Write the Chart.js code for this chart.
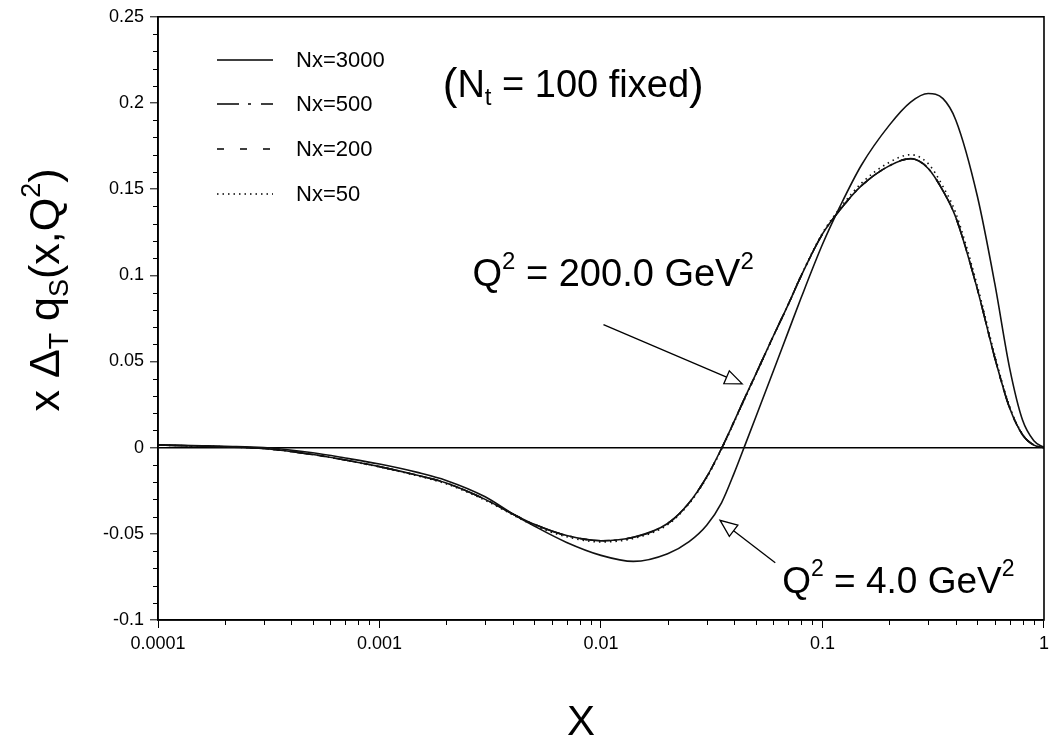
<!DOCTYPE html>
<html>
<head>
<meta charset="utf-8">
<script src="https://cdn.jsdelivr.net/npm/chart.js@4.4.0/dist/chart.umd.min.js"></script>
<style>
  html, body { margin: 0; padding: 0; background: #fff; }
</style>
</head>
<body>
<canvas id="pdfChart" width="1054" height="742"></canvas>
<script>
// x grid shared by all curves
const xValues = [0.0001, 0.0002, 0.0003, 0.0005, 0.0007, 0.001, 0.0015, 0.002, 0.003, 0.004,
  0.005, 0.007, 0.01, 0.014, 0.02, 0.025, 0.03, 0.035, 0.04, 0.045,
  0.05, 0.06, 0.07, 0.08, 0.1, 0.12, 0.15, 0.2, 0.25, 0.3,
  0.35, 0.4, 0.5, 0.6, 0.7, 0.8, 0.9, 1.0];

// Q^2 = 4.0 GeV^2 (input)
const q4Values = [0.0017, 0.0008, 0.0001, -0.003, -0.006, -0.0095, -0.0145, -0.019, -0.0285, -0.0385,
  -0.0455, -0.055, -0.0625, -0.066, -0.0615, -0.0545, -0.045, -0.032, -0.0145, 0.0025,
  0.0178, 0.0445, 0.0672, 0.0868, 0.118, 0.140, 0.164, 0.187, 0.2005, 0.2055,
  0.2025, 0.190, 0.146, 0.095, 0.046, 0.016, 0.004, 0];

// Q^2 = 200.0 GeV^2, different Nx
const nx3000Values = [0.0015, 0.0005, -0.0005, -0.004, -0.0072, -0.011, -0.0162, -0.0205, -0.030, -0.0385,
  -0.0445, -0.051, -0.054, -0.052, -0.044, -0.032, -0.017, -0.0005, 0.0155, 0.030,
  0.0427, 0.0648, 0.083, 0.0995, 0.124, 0.138, 0.152, 0.1635, 0.1676, 0.162,
  0.149, 0.1335, 0.092, 0.052, 0.023, 0.0075, 0.0015, 0];
const nx500Values = [0.0015, 0.0005, -0.0005, -0.004, -0.0072, -0.011, -0.0162, -0.0205, -0.030, -0.0385,
  -0.0445, -0.051, -0.054, -0.052, -0.044, -0.032, -0.017, -0.0005, 0.0155, 0.030,
  0.0427, 0.0648, 0.083, 0.0995, 0.124, 0.138, 0.152, 0.1635, 0.1677, 0.162,
  0.149, 0.1335, 0.092, 0.052, 0.023, 0.0075, 0.0015, 0];
const nx200Values = [0.0015, 0.0005, -0.0005, -0.004, -0.0072, -0.011, -0.0162, -0.0205, -0.030, -0.0385,
  -0.0445, -0.051, -0.054, -0.052, -0.044, -0.032, -0.017, -0.0005, 0.0155, 0.030,
  0.0427, 0.0648, 0.083, 0.0995, 0.124, 0.138, 0.152, 0.1635, 0.1678, 0.1622,
  0.149, 0.1337, 0.0922, 0.052, 0.023, 0.0075, 0.0015, 0];
const nx50Values = [0.0015, 0.0005, -0.0005, -0.004, -0.0073, -0.0112, -0.0165, -0.021, -0.0305, -0.039,
  -0.0452, -0.0517, -0.0547, -0.0527, -0.0447, -0.0325, -0.0175, -0.001, 0.015, 0.0295,
  0.0422, 0.0645, 0.083, 0.0998, 0.1245, 0.139, 0.1535, 0.1655, 0.170, 0.1648,
  0.1515, 0.136, 0.094, 0.0535, 0.0238, 0.0078, 0.0016, 0];

const legendLabels = ["Nx=3000", "Nx=500", "Nx=200", "Nx=50"];
const xTickValues = [0.0001, 0.001, 0.01, 0.1, 1];
const xTickLabels = ["0.0001", "0.001", "0.01", "0.1", "1"];
const yTickValues = [-0.1, -0.05, 0, 0.05, 0.1, 0.15, 0.2, 0.25];
const yTickLabels = ["-0.1", "-0.05", "0", "0.05", "0.1", "0.15", "0.2", "0.25"];

const FONT = '"Liberation Sans", Arial, Helvetica, sans-serif';

function points(ys) {
  return xValues.map((x, i) => ({ x: x, y: ys[i] }));
}

function curve(label, ys, dash) {
  return {
    label: label,
    data: points(ys),
    borderColor: "#111",
    borderWidth: 1.6,
    borderDash: dash,
    pointRadius: 0,
    fill: false,
    cubicInterpolationMode: "monotone"
  };
}

// text made of pieces: [text, kind] with kind n / sub / sup / big
function partFont(kind, size) {
  if (kind === "sub" || kind === "sup") return Math.round(size * 0.62) + "px " + FONT;
  if (kind === "big") return Math.round(size * 1.15) + "px " + FONT;
  return size + "px " + FONT;
}
function richWidth(ctx, parts, size) {
  let w = 0;
  parts.forEach(p => {
    ctx.font = partFont(p[1], size);
    w += ctx.measureText(p[0]).width;
  });
  return w;
}
function drawRich(ctx, parts, x, y, size) {
  let cx = x;
  parts.forEach(p => {
    ctx.font = partFont(p[1], size);
    let dy = 0;
    if (p[1] === "sup") dy = -size * 0.45;
    if (p[1] === "sub") dy = size * 0.22;
    if (p[1] === "big") dy = size * 0.06;
    ctx.fillText(p[0], cx, y + dy);
    cx += ctx.measureText(p[0]).width;
  });
}

function arrow(ctx, x0, y0, x1, y1) {
  const ang = Math.atan2(y1 - y0, x1 - x0);
  const len = 17, half = 7;
  const bx = x1 - len * Math.cos(ang), by = y1 - len * Math.sin(ang);
  ctx.beginPath();
  ctx.moveTo(x0, y0);
  ctx.lineTo(bx, by);
  ctx.stroke();
  ctx.beginPath();
  ctx.moveTo(x1, y1);
  ctx.lineTo(bx + half * Math.sin(ang), by - half * Math.cos(ang));
  ctx.lineTo(bx - half * Math.sin(ang), by + half * Math.cos(ang));
  ctx.closePath();
  ctx.fillStyle = "#fff";
  ctx.fill();
  ctx.stroke();
}

const decorPlugin = {
  id: "decor",
  afterDraw(chart) {
    const ctx = chart.ctx;
    const area = chart.chartArea;
    const xs = chart.scales.x, ys = chart.scales.y;
    ctx.save();
    ctx.strokeStyle = "#000";
    ctx.fillStyle = "#000";

    // frame
    ctx.lineWidth = 1.6;
    ctx.strokeRect(area.left, area.top, area.right - area.left, area.bottom - area.top);

    // minor ticks
    ctx.lineWidth = 1;
    for (let i = -10; i <= 25; i++) {
      if (i % 5 === 0) continue;
      const py = Math.round(ys.getPixelForValue(i / 100)) + 0.5;
      ctx.beginPath();
      ctx.moveTo(area.left - 5, py);
      ctx.lineTo(area.left, py);
      ctx.stroke();
    }
    for (let d = -4; d < 0; d++) {
      for (let m = 2; m <= 9; m++) {
        const px = Math.round(xs.getPixelForValue(m * Math.pow(10, d))) + 0.5;
        ctx.beginPath();
        ctx.moveTo(px, area.bottom);
        ctx.lineTo(px, area.bottom + 5);
        ctx.stroke();
      }
    }

    // legend
    const rows = [60, 104, 149, 194];
    chart.data.datasets.forEach(ds => {
      const idx = legendLabels.indexOf(ds.label);
      if (idx < 0) return;
      ctx.save();
      ctx.lineWidth = 1.6;
      ctx.setLineDash(ds.borderDash || []);
      ctx.beginPath();
      ctx.moveTo(217, rows[idx]);
      ctx.lineTo(273, rows[idx]);
      ctx.stroke();
      ctx.restore();
      ctx.font = "22px " + FONT;
      ctx.textBaseline = "middle";
      ctx.textAlign = "left";
      ctx.fillText(ds.label, 296, rows[idx] + 1);
    });

    // annotations
    ctx.textBaseline = "alphabetic";
    ctx.textAlign = "left";
    drawRich(ctx, [["(", "big"], ["N", "n"], ["t", "sub"], [" = 100 fixed", "n"], [")", "big"]],
      xs.getPixelForValue(0.00193), ys.getPixelForValue(0.2035), 38);
    drawRich(ctx, [["Q", "n"], ["2", "sup"], [" = 200.0 GeV", "n"], ["2", "sup"]],
      xs.getPixelForValue(0.00263), ys.getPixelForValue(0.0939), 38);
    drawRich(ctx, [["Q", "n"], ["2", "sup"], [" = 4.0 GeV", "n"], ["2", "sup"]],
      xs.getPixelForValue(0.0658), ys.getPixelForValue(-0.0841), 37);

    ctx.lineWidth = 1.3;
    arrow(ctx, xs.getPixelForValue(0.01026), ys.getPixelForValue(0.0714),
      xs.getPixelForValue(0.0434), ys.getPixelForValue(0.037));
    arrow(ctx, xs.getPixelForValue(0.0612), ys.getPixelForValue(-0.0668),
      xs.getPixelForValue(0.0345), ys.getPixelForValue(-0.0422));

    // axis titles
    ctx.fillStyle = "#000";
    const yTitle = [["x \u0394", "n"], ["T", "sub"], [" q", "n"], ["S", "sub"], ["(x,Q", "n"], ["2", "sup"], [")", "n"]];
    const w = richWidth(ctx, yTitle, 43);
    ctx.save();
    ctx.translate(59, 290);
    ctx.rotate(-Math.PI / 2);
    drawRich(ctx, yTitle, -w / 2, 0, 43);
    ctx.restore();

    ctx.font = "42px " + FONT;
    ctx.textAlign = "center";
    ctx.fillText("X", 581, 735);
    ctx.restore();
  }
};

new Chart(document.getElementById("pdfChart"), {
  type: "line",
  data: {
    datasets: [
      curve("Q2=4.0", q4Values, []),
      curve("Nx=50", nx50Values, [1.5, 4]),
      curve("Nx=200", nx200Values, [7, 16]),
      curve("Nx=500", nx500Values, [22, 9, 3, 10]),
      curve("Nx=3000", nx3000Values, [])
    ]
  },
  options: {
    responsive: false,
    animation: false,
    devicePixelRatio: 1,
    layout: { padding: { top: 12, right: 9, left: 0, bottom: 0 } },
    plugins: {
      legend: { display: false },
      tooltip: { enabled: false }
    },
    scales: {
      x: {
        type: "logarithmic",
        min: 0.0001,
        max: 1,
        afterBuildTicks(scale) {
          scale.ticks = xTickValues.map(v => ({ value: v }));
        },
        afterFit(scale) { scale.height = 122; },
        ticks: {
          autoSkip: false,
          maxRotation: 0,
          color: "#000",
          padding: 5,
          font: { family: FONT, size: 18 },
          callback: (v, i) => xTickLabels[i]
        },
        grid: { drawOnChartArea: false, tickLength: 8, tickColor: "#000", tickWidth: 1 },
        border: { color: "#000", width: 1.6 }
      },
      y: {
        type: "linear",
        min: -0.1,
        max: 0.25,
        afterBuildTicks(scale) {
          scale.ticks = yTickValues.map(v => ({ value: v }));
        },
        afterFit(scale) { scale.width = 158; },
        ticks: {
          color: "#000",
          padding: 6,
          font: { family: FONT, size: 18 },
          callback: (v, i) => yTickLabels[i]
        },
        grid: {
          color: ctx => (ctx.tick && ctx.tick.value === 0) ? "#000" : "rgba(0,0,0,0)",
          lineWidth: 1.6,
          tickLength: 8,
          tickColor: "#000",
          tickWidth: 1
        },
        border: { color: "#000", width: 1.6 }
      }
    }
  },
  plugins: [decorPlugin]
});
</script>
</body>
</html>
